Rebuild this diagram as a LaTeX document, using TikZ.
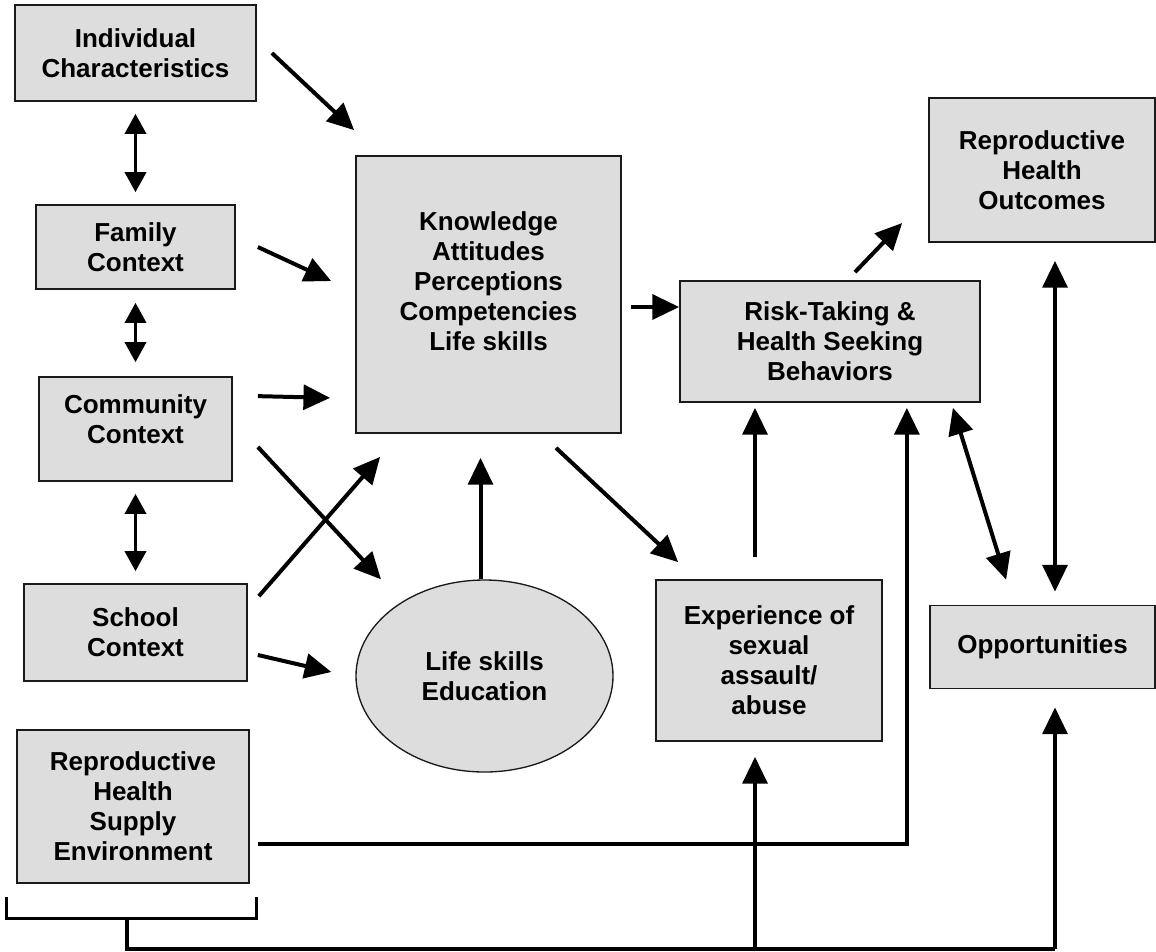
\documentclass[tikz,border=0pt]{standalone}
\usepackage{fontspec}
\setmainfont{Liberation Sans}
\usetikzlibrary{arrows.meta,shapes.geometric,calc}
\definecolor{boxgray}{HTML}{DDDDDD}
\definecolor{edgecol}{HTML}{1A1A1A}
\begin{document}
\begin{tikzpicture}[x=0.75pt,y=-0.75pt,
  labelfont/.style={font=\bfseries\fontsize{19.5}{22.5}\selectfont},
  box/.style={draw=edgecol,line width=1.3pt,fill=boxgray,inner sep=0pt,align=center,labelfont},
  ellbox/.style={ellipse,draw=edgecol,line width=1pt,fill=boxgray,inner sep=0pt,align=center,labelfont},
  txt/.style={inner sep=0pt,align=center,labelfont},
  bigtip/.tip={Triangle[length=20pt,width=18.5pt]},
  smalltip/.tip={Triangle[length=15pt,width=16pt]},
  thickarrow/.style={line width=3pt,-bigtip},
  thickdbl/.style={line width=3pt,bigtip-bigtip},
  thindbl/.style={line width=1.9pt,smalltip-smalltip},
  plainline/.style={line width=2.6pt}]
\useasboundingbox (0,0) rectangle (1156,951);
\fill[white] (0,0) rectangle (1156,951);

% boxes
\node[box,minimum width=180.75pt,minimum height=72pt] (ind) at (135.5,53) {Individual\\Characteristics};
\node[box,minimum width=149.25pt,minimum height=63pt] (fam) at (135.5,247) {Family\\Context};
\node[box,minimum width=144.75pt,minimum height=78pt] (com) at (135.5,429) {};
\node[txt] (comT) at (135.5,419) {Community\\Context};
\node[box,minimum width=167.25pt,minimum height=72.75pt] (sch) at (135.5,632.5) {School\\Context};
\node[box,minimum width=174pt,minimum height=114.75pt] (rhse) at (133,806.5) {Reproductive\\Health\\Supply\\Environment};
\node[box,minimum width=198.75pt,minimum height=207.75pt] (know) at (488.5,294.5) {};
\node[txt] (knowT) at (488.5,281) {Knowledge\\Attitudes\\Perceptions\\Competencies\\Life skills};
\node[ellbox,minimum width=192.75pt,minimum height=144pt] (ell) at (484.5,676) {Life skills\\Education};
\node[box,minimum width=225pt,minimum height=90.75pt] (risk) at (830,341.5) {Risk-Taking \&\\Health Seeking\\Behaviors};
\node[box,minimum width=169.5pt,minimum height=108pt] (rho) at (1042,170) {Reproductive\\Health\\Outcomes};
\node[box,minimum width=169.5pt,minimum height=120.75pt] (exp) at (769,660.5) {Experience of\\sexual\\assault/\\abuse};
\node[box,minimum width=168.75pt,minimum height=62.25pt] (opp) at (1042.5,647) {Opportunities};

% left column double arrows
\draw[thindbl] ($(ind.south)+(0,12)$) -- ($(fam.north)+(0,-12)$);
\draw[thindbl] ($(fam.south)+(0,13)$) -- ($(com.north)+(0,-14)$);
\draw[thindbl] ($(com.south)+(0,12)$) -- ($(sch.north)+(0,-12)$);

% arrows into knowledge box
\draw[thickarrow] ($(ind.east)+(15,0)$) -- ($(know.north west)+(-1,-25)$);
\draw[thickarrow] ($(fam.east)+(22,0)$) -- ($(know.west)+(-24,-13.5)$);
\draw[thickarrow] ($(com.north east)+(25,20)$) -- ($(know.south west)+(-25,-36)$);
\draw[thickarrow] ($(com.east)+(25,18)$) -- ($(ell.north)+(-103.5,0)$);
\draw[thickarrow] ($(sch.north east)+(11,13)$) -- ($(know.south west)+(25,23)$);
\draw[thickarrow] ($(sch.east)+(10,22.5)$) -- ($(ell.west)+(-24,-4)$);
\draw[thickarrow] ($(ell.north)+(-4,0)$) -- ($(know.south)+(-8,24)$);

% knowledge to risk and experience
\draw[thickarrow] ($(know.east)+(9,12.5)$) -- ($(risk.west)+(0,-34.5)$);
\draw[thickarrow] ($(know.south)+(67.5,14)$) -- ($(exp.north west)+(23,-17)$);
\draw[thickarrow] ($(exp.north)+(-14,-22)$) -- ($(risk.south)+(-75,5)$);
\draw[thickarrow] ($(risk.north)+(25,-8)$) -- ($(rho.west)+(-26,53)$);

% right side double arrows
\draw[thickdbl] ($(risk.south east)+(-28,5)$) -- ($(opp.north west)+(77,-25)$);
\draw[thickdbl] ($(rho.south)+(13,18)$) -- ($(opp.north)+(12.5,-13)$);

% supply environment line
\draw[thickarrow] ($(rhse.east)+(8,37.5)$) -| ($(risk.south east)+(-74,5)$);

% bracket and bottom connector
\coordinate (bl) at ($(rhse.south west)+(-10,13)$);
\coordinate (br) at ($(rhse.south east)+(7,13)$);
\draw[line width=2.2pt] (bl) |- ($(br)+(0,22)$) -- (br);
\coordinate (stem) at ($(rhse.south west)+(111,35)$);
\coordinate (bot) at ($(stem)+(0,30)$);
\coordinate (oppbot) at ($(opp.south)+(12.5,0)$);
\coordinate (expbot) at ($(exp.south)+(-14,0)$);
\draw[plainline] (stem) -- (bot) -- (bot -| oppbot);
\draw[thickarrow] (expbot |- bot) -- ($(expbot)+(0,15)$);
\draw[thickarrow] (oppbot |- bot) -- ($(oppbot)+(0,18)$);
\end{tikzpicture}
\end{document}
